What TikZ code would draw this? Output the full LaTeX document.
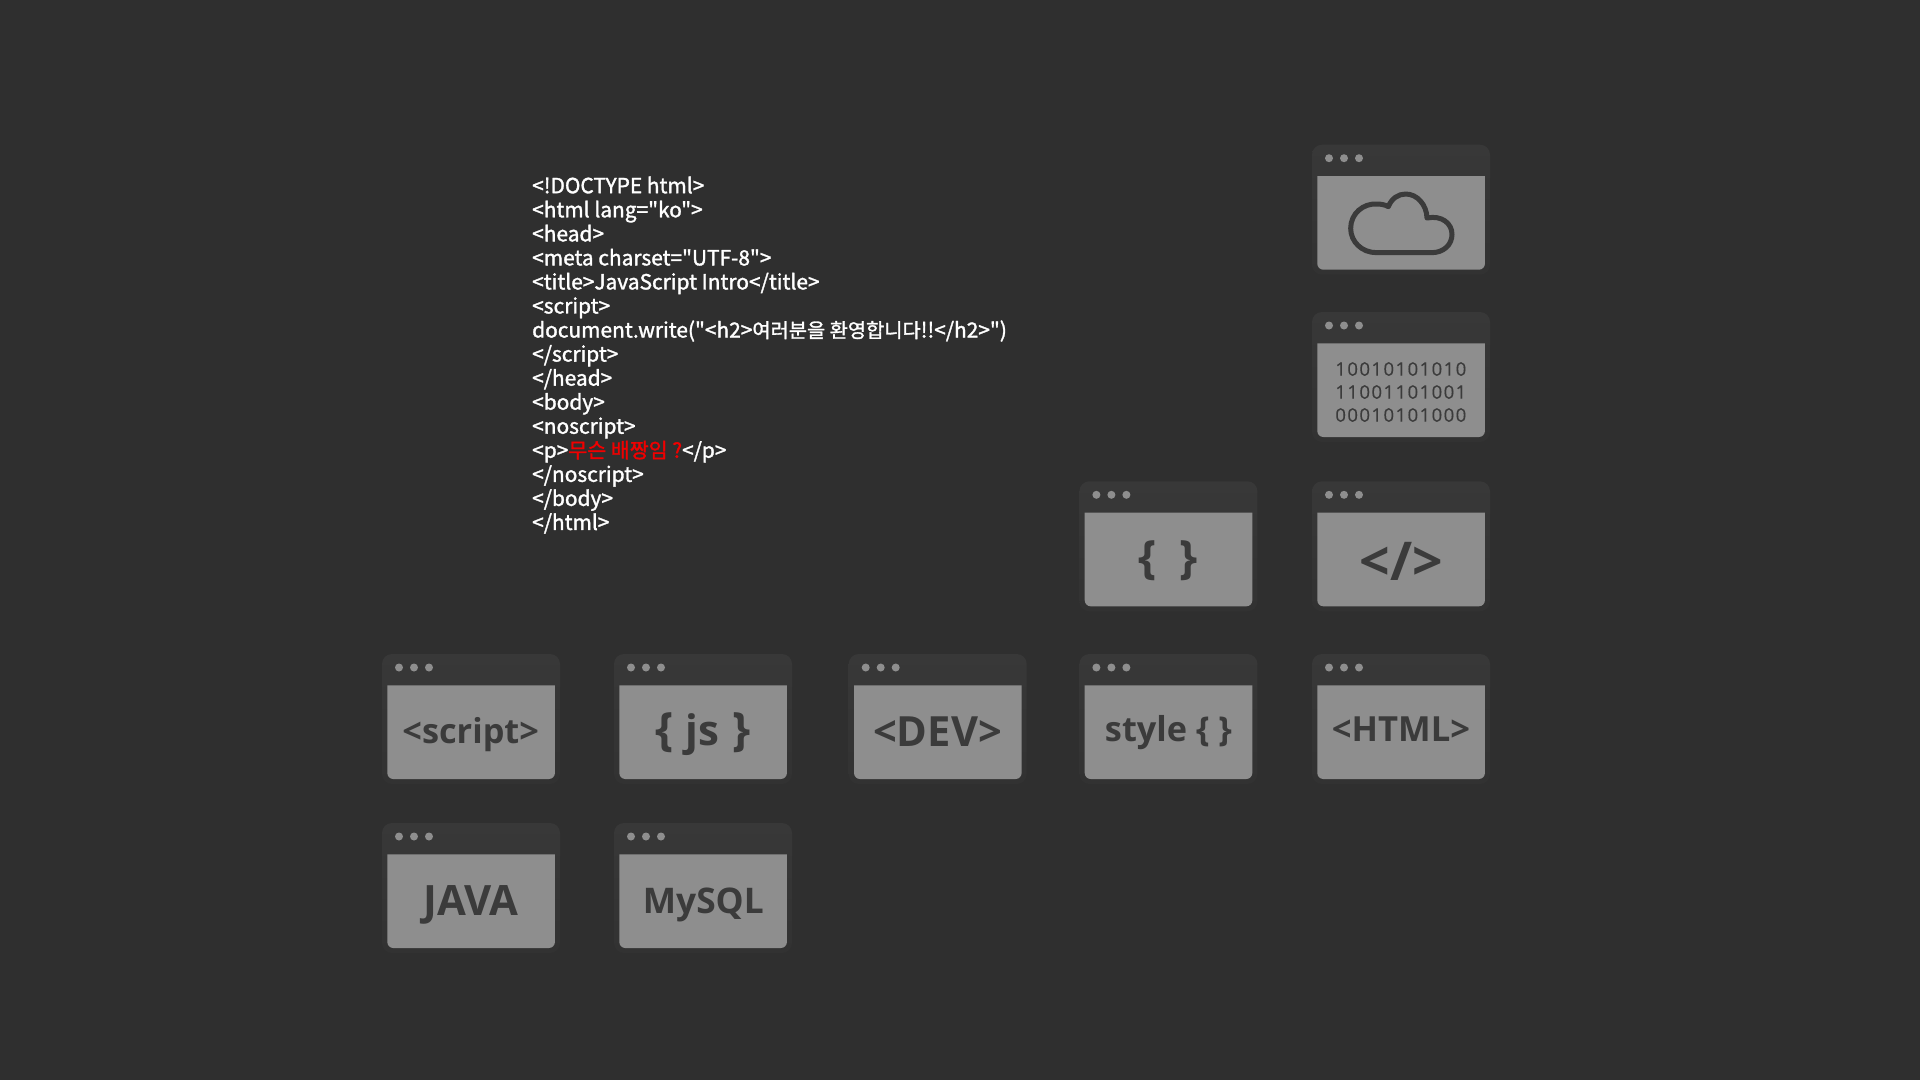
\documentclass[tikz,border=0pt]{standalone}
\usepackage{fontspec}
\newfontfamily\codefont[FakeBold=1.5]{Noto Sans CJK KR}
\newcommand{\hangul}[1]{{\fontsize{19.8}{24.05}\selectfont #1}}
\newcommand{\hangulred}[1]{{\fontsize{20.6}{24.05}\selectfont #1}}
\newfontfamily\cardfont{Open Sans}[BoldFont={Open Sans Bold}]
\newfontfamily\binfont[LetterSpace=7.5,FakeBold=0.2]{Open Sans}
\definecolor{bgc}{HTML}{2F2F2F}
\definecolor{cardtop}{HTML}{383838}
\definecolor{cardbot}{HTML}{323232}
\definecolor{paneC}{HTML}{8E8E8E}
\definecolor{inkC}{HTML}{3B3B3B}
\definecolor{redC}{HTML}{F00000}
\tikzset{
  x=1pt,y=-1pt,
  cardbox/.style={rounded corners=10pt,top color=cardtop,bottom color=cardbot,draw=none},
  windowdot/.style={circle,fill=paneC,inner sep=0pt,minimum size=8pt},
  glyph/.style={anchor=base,inner sep=0pt,text=inkC},
  codetext/.style={anchor=base west,inner sep=0pt,text=white,align=left},
}
\newcommand{\card}[3]{%
  \begin{scope}[shift={(#2,#3)}]
    \path[cardbox] (0,0) rectangle (178,130);
    \fill[paneC,rounded corners=6pt] (5.3,80) -- (5.3,125) -- (172.9,125) -- (172.9,80) [sharp corners] -- (172.9,31.3) -- (5.3,31.3) -- cycle;
    \node[windowdot] (#1d1) at (17,13.5) {};
    \node[windowdot] (#1d2) at (32,13.5) {};
    \node[windowdot] (#1d3) at (47,13.5) {};
  \end{scope}}
\newcommand{\lbl}[5]{% name, cx, baseline, size, text
  \node[glyph] (#1) at (#2,#3) {\cardfont\bfseries\fontsize{#4}{#4}\selectfont #5};}
\newcommand{\bigbrace}[1]{{\fontsize{46}{46}\selectfont #1}}
\begin{document}
\begin{tikzpicture}
\useasboundingbox (0,0) rectangle (1920,1080);
\fill[bgc] (0,0) rectangle (1920,1080);
% cards
\card{cloud}{1312}{144.7}
\card{binary}{1312}{312}
\card{braces}{1079.4}{481.3}
\card{tag}{1312}{481.3}
\card{script}{382}{654}
\card{js}{614}{654}
\card{dev}{848.7}{654}
\card{style}{1079.4}{654}
\card{html}{1312}{654}
\card{java}{382}{823}
\card{mysql}{614}{823}
% cloud glyph
\begin{scope}[shift={(1290,130)},x=.33333pt,y=-.33333pt]
\draw[inkC,line width=5pt,line join=round]
 (182,295) .. controls (182,250) and (220,220) .. (260,222)
 .. controls (272,222) and (285,224) .. (295,230)
 .. controls (305,205) and (325,192) .. (347,192)
 .. controls (382,192) and (410,225) .. (411,264)
 .. controls (455,255) and (486,280) .. (486,313)
 .. controls (486,345) and (460,368) .. (425,368)
 -- (260,368)
 .. controls (215,368) and (182,335) .. (182,295) -- cycle;
\end{scope}
% binary
\node[anchor=base,inner sep=0pt,text=inkC] (bin1) at (1400.8,375.7) {\binfont\fontsize{18.6}{18.6}\selectfont 10010101010};
\node[anchor=base,inner sep=0pt,text=inkC] (bin2) at (1400.8,398.7) {\binfont\fontsize{18.6}{18.6}\selectfont 11001101001};
\node[anchor=base,inner sep=0pt,text=inkC] (bin3) at (1400.8,421.7) {\binfont\fontsize{18.6}{18.6}\selectfont 00010101000};
% labels
\lbl{tbraces}{1168.4}{573.7}{46}{\{\hspace{.5em}\}}
\lbl{ttag}{1401.5}{580}{53.5}{</>}
\lbl{tscript}{470.7}{743.5}{34.3}{<script>}
\lbl{tjs}{702.8}{745}{42}{\bigbrace{\{}\hspace{.3em}js\hspace{.3em}\bigbrace{\}}}
\lbl{tdev}{937.5}{746.5}{41.6}{<DEV>}
\lbl{tstyle}{1168.5}{741.7}{34.3}{style \{ \}}
\lbl{thtml}{1401}{741.5}{34.6}{<HTML>}
\lbl{tjava}{471}{915}{41.8}{JAVA}
\lbl{tmysql}{703.3}{913}{35.3}{MySQL}
% code
\node[codetext,anchor=north west,font=\codefont\fontsize{20.9}{24.05}\selectfont] (code) at (532,176.4) {%
<!DOCTYPE html>\\
<html lang="ko">\\
<head>\\
<meta charset="UTF-8">\\
<title>JavaScript Intro</title>\\
<script>\\
document.write("<h2>\hangul{여러분을 환영합니다}!!</h2>")\\
</script>\\
</head>\\
<body>\\
<noscript>\\
<p>\textcolor{redC}{\hangulred{무슨 배짱임 ?}}</p>\\
</noscript>\\
</body>\\
</html>};
\end{tikzpicture}
\end{document}
